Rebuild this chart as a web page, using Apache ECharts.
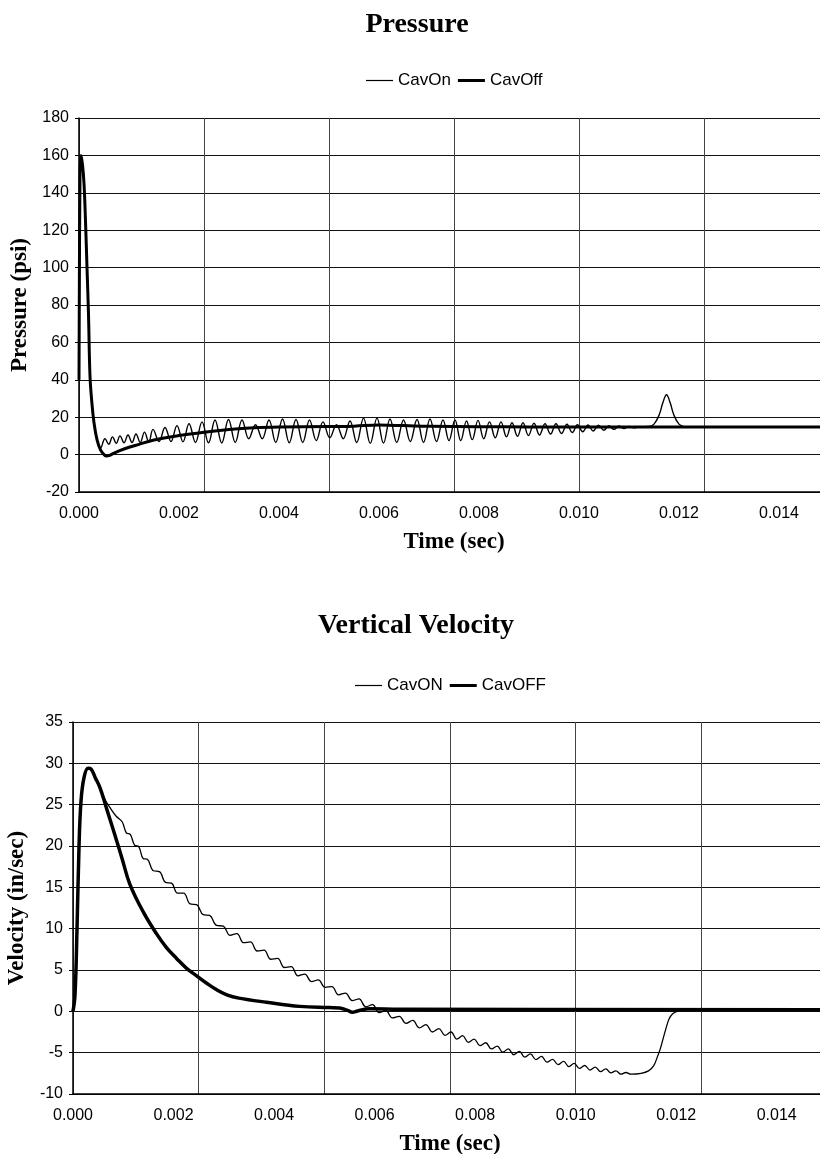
<!DOCTYPE html>
<html>
<head>
<meta charset="utf-8">
<script src="https://cdn.jsdelivr.net/npm/echarts@6/dist/echarts.min.js"></script>
<style>
html,body{margin:0;padding:0;background:#fff;}
#chart{width:820px;height:1154px;}
</style>
</head>
<body>
<div id="chart"></div>
<script>
// ---------- Pressure (psi) ----------
const pressureOnTime = [0, 0.00002, 0.00004, 0.00007, 0.0001, 0.00013, 0.00016, 0.00019, 0.00022, 0.00026, 0.0003, 0.00036, 0.00043,
  0.00052, 0.000595, 0.00067, 0.000745, 0.00082, 0.0009, 0.00098, 0.00106, 0.00114, 0.001225, 0.00131, 0.001395, 0.00148, 0.0016,
  0.00172, 0.00184, 0.00196, 0.00208, 0.0022, 0.00233, 0.00246, 0.00259, 0.00272, 0.002855, 0.00299, 0.003125, 0.00326, 0.003395,
  0.00353, 0.003665, 0.0038, 0.003935, 0.00407, 0.004205, 0.00434, 0.004475, 0.00461, 0.004745, 0.00488, 0.005015, 0.00515, 0.005285,
  0.00542, 0.005555, 0.00569, 0.005825, 0.00596, 0.00609, 0.00622, 0.006355, 0.00649, 0.006625, 0.00676, 0.00689, 0.00702, 0.00715,
  0.00728, 0.0074, 0.00752, 0.007635, 0.00775, 0.007865, 0.00798, 0.008095, 0.00821, 0.008325, 0.00844, 0.00855, 0.00866, 0.00877,
  0.00888, 0.00899, 0.0091, 0.00921, 0.00932, 0.00943, 0.00954, 0.00965, 0.00976, 0.009865, 0.00997, 0.010075, 0.01018, 0.010285,
  0.01039, 0.010495, 0.0106, 0.0107, 0.0108, 0.0109, 0.011, 0.0111, 0.0112,
  0.0114, 0.0115, 0.0116, 0.01168, 0.01175, 0.01182, 0.0119, 0.012, 0.0121, 0.0122, 0.015];
const pressureOnPsi = [40, 150, 160, 155, 145, 125, 100, 75, 42, 27, 17, 8, 3.5,
  8.5, 5.5, 9.5, 6, 10, 6.3, 10.5, 6.5, 11, 6.5, 12, 6.8, 13.5, 7,
  14.5, 7, 15.5, 6.8, 16.5, 6.5, 17.5, 6.3, 18.5, 6.2, 18.8, 6.5, 18.5, 8.5,
  16, 8.5, 18.5, 6.5, 19, 6.3, 18.8, 6.5, 18.5, 7.5, 17.5, 9, 16, 8.5,
  18, 6.5, 19.5, 6, 19.5, 6.2, 19, 6.5, 18.5, 7, 18.8, 6.5, 19, 7,
  18.5, 7.5, 18.5, 7.5, 18, 8, 18.3, 8.5, 17.5, 9, 17.5, 9.5, 17, 9.8,
  17, 10.2, 16.8, 10.5, 16.5, 11, 16.5, 11.3, 16.2, 11.8, 16, 12.2, 15.8, 12.6,
  15.7, 13, 15.5, 13.5, 15.3, 13.9, 15.1, 14.3, 14.9,
  15, 16.3, 21, 28, 32, 28, 21, 16.3, 15, 14.7, 14.7];
const pressureOffTime = [0, 0.00002, 0.00004, 0.00007, 0.0001, 0.00013, 0.00016, 0.00019, 0.00022, 0.00026, 0.0003, 0.00036, 0.00043,
  0.0005, 0.00055, 0.0006, 0.0007, 0.0009, 0.0012, 0.0015, 0.002, 0.0025, 0.003, 0.0035, 0.004, 0.005, 0.0055, 0.006, 0.0065, 0.007,
  0.008, 0.009, 0.015];
const pressureOffPsi = [40, 150, 160, 155, 145, 125, 100, 75, 42, 27, 17, 8, 2.5,
  0, -0.8, -0.6, 0.8, 3, 5.5, 7.8, 10.2, 12, 13.4, 14.3, 14.7, 15, 15.2, 15.8, 15.5, 15.1,
  14.9, 14.8, 14.7];

// ---------- Vertical velocity (in/sec) ----------
const velocityOnTime = [0, 0.00004, 0.00008, 0.00012, 0.00016, 0.00022, 0.0003, 0.00036, 0.00044, 0.00054, 0.00064, 0.00074, 0.00086,
  0.00098, 0.00106, 0.00114, 0.001225, 0.00131, 0.001395, 0.00148, 0.0016, 0.00172, 0.00184, 0.00196, 0.00208, 0.0022, 0.00233,
  0.00246, 0.00259, 0.00272, 0.002855, 0.00299, 0.003125, 0.00326, 0.003395, 0.00353, 0.003665, 0.0038, 0.003935, 0.00407, 0.004205,
  0.00434, 0.004475, 0.00461, 0.004745, 0.00488, 0.005015, 0.00515, 0.005285, 0.00542, 0.005555, 0.00569, 0.005825, 0.00596, 0.00609,
  0.00622, 0.006355, 0.00649, 0.006625, 0.00676, 0.00689, 0.00702, 0.00715, 0.00728, 0.0074, 0.00752, 0.007635, 0.00775, 0.007865,
  0.00798, 0.008095, 0.00821, 0.008325, 0.00844, 0.00855, 0.00866, 0.00877, 0.00888, 0.00899, 0.0091, 0.00921, 0.00932, 0.00943,
  0.00954, 0.00965, 0.00976, 0.009865, 0.00997, 0.010075, 0.01018, 0.010285, 0.01039, 0.010495, 0.0106, 0.0107, 0.0108, 0.0109,
  0.011, 0.0111,
  0.0113, 0.01145, 0.01155, 0.01162, 0.01168, 0.01174, 0.0118, 0.01186, 0.01193, 0.01202, 0.01213, 0.015];
const velocityOnIps = [0, 2, 10, 20, 25.5, 28.3, 29.4, 29.3, 28.3, 27, 25.6, 24.6, 23.6,
  22.9, 21.6, 21.4, 20.1, 19.9, 18.5, 18.4, 17.0, 16.9, 15.6, 15.5, 14.3, 14.3, 13.0,
  12.9, 11.7, 11.6, 10.4, 10.3, 9.2, 9.4, 8.3, 8.4, 7.3, 7.4, 6.3, 6.4, 5.3,
  5.4, 4.3, 4.5, 3.6, 3.8, 2.9, 3.0, 2.0, 2.2, 1.3, 1.5, 0.55, 0.8, -0.15,
  0.1, -0.8, -0.6, -1.45, -1.1, -2.0, -1.6, -2.5, -2.1, -2.9, -2.5, -3.35, -2.95, -3.75,
  -3.35, -4.15, -3.8, -4.55, -4.2, -4.95, -4.55, -5.25, -4.85, -5.55, -5.15, -5.85, -5.45, -6.15,
  -5.8, -6.45, -6.05, -6.7, -6.3, -6.9, -6.55, -7.1, -6.75, -7.3, -6.95, -7.45, -7.2, -7.6,
  -7.4, -7.6,
  -7.5, -7.2, -6.6, -5.6, -4.6, -3.3, -2.0, -0.9, -0.3, 0.0, 0.15, 0.2];
const velocityOffTime = [0, 0.00004, 0.00008, 0.00012, 0.00016, 0.00022, 0.0003, 0.00036, 0.00044, 0.00054,
  0.00068, 0.00083, 0.00098, 0.00113, 0.0014, 0.00166, 0.00186, 0.00206, 0.00226, 0.00246,
  0.00266, 0.00286, 0.00306, 0.0033, 0.00385, 0.00451, 0.0051, 0.0053, 0.00545, 0.00556,
  0.00566, 0.0059, 0.0065, 0.015];
const velocityOffIps = [0, 2, 10, 20, 25.5, 28.3, 29.4, 29.3, 28.3, 27,
  24.3, 21.4, 18.4, 15.4, 12.0, 9.4, 7.7, 6.4, 5.2, 4.3,
  3.4, 2.6, 2.0, 1.6, 1.1, 0.6, 0.45, 0.4, 0.15, -0.1,
  0.05, 0.3, 0.25, 0.2];

const pressureLegend = ['CavOn', 'CavOff'];
const velocityLegend = ['CavON', 'CavOFF'];

function pairs(ts, vs) { return ts.map((t, i) => [t, vs[i]]); }

const SANS = 'Liberation Sans, Arial, sans-serif';
const SERIF = 'Liberation Serif, Times New Roman, serif';
const nameStyle = { fontFamily: SERIF, fontWeight: 'bold', fontSize: 23, color: '#000' };
const THIN_ICON = 'path://M0,0 L27,0 L27,1.2 L0,1.2 Z';
const THICK_ICON = 'path://M0,0 L27,0 L27,3 L0,3 Z';

function labelXAxis(grid, gap) {
  return {
    gridIndex: grid, type: 'value', min: 0, max: 0.015, interval: 0.002, position: 'bottom',
    axisLine: { show: true, onZero: false, lineStyle: { color: '#000', width: 1.5 } },
    axisTick: { show: false },
    axisLabel: { fontSize: 16, color: '#000', fontFamily: SANS, margin: 14, showMaxLabel: false,
      formatter: v => v.toFixed(3) },
    splitLine: { show: false },
    name: 'Time (sec)', nameLocation: 'middle', nameGap: gap, nameTextStyle: nameStyle
  };
}
function gridXAxis(grid) {
  return {
    gridIndex: grid, type: 'value', min: 0, max: 0.015, interval: 0.0025, position: 'top',
    axisLine: { show: false }, axisTick: { show: false }, axisLabel: { show: false },
    splitLine: { show: true, lineStyle: { color: '#444', width: 1 } }
  };
}
function yAxis(grid, min, max, step, name, gap) {
  return {
    gridIndex: grid, type: 'value', min: min, max: max, interval: step,
    axisLine: { show: true, lineStyle: { color: '#000', width: 1.5 } },
    axisTick: { show: true, length: 4, lineStyle: { color: '#000' } },
    axisLabel: { fontSize: 16, color: '#000', fontFamily: SANS, margin: 10 },
    splitLine: { show: true, lineStyle: { color: '#111', width: 1 } },
    name: name, nameLocation: 'middle', nameGap: gap, nameRotate: 90, nameTextStyle: nameStyle
  };
}
function lineSeries(name, data, xi, yi, width) {
  return {
    name: name, type: 'line', data: data, xAxisIndex: xi, yAxisIndex: yi,
    symbol: 'none', showSymbol: false, smooth: 0.4,
    lineStyle: { color: '#000', width: width, join: 'round' }, itemStyle: { color: '#000' },
    animation: false
  };
}

const chart = echarts.init(document.getElementById('chart'), null, { renderer: 'canvas' });
chart.setOption({
  backgroundColor: '#fff',
  animation: false,
  title: [
    { text: 'Pressure', left: 417, top: 11, textAlign: 'center', padding: 0,
      textStyle: { fontFamily: SERIF, fontWeight: 'bold', fontSize: 28, color: '#000' } },
    { text: 'Vertical Velocity', left: 416, top: 612, textAlign: 'center', padding: 0,
      textStyle: { fontFamily: SERIF, fontWeight: 'bold', fontSize: 28, color: '#000' } }
  ],
  legend: [
    { data: [{ name: pressureLegend[0], icon: THIN_ICON }, { name: pressureLegend[1], icon: THICK_ICON }],
      left: 366, top: 72, padding: 0, itemGap: 7, itemWidth: 27, itemHeight: 12,
      textStyle: { fontSize: 17, fontFamily: SANS, color: '#000' } },
    { data: [{ name: velocityLegend[0], icon: THIN_ICON }, { name: velocityLegend[1], icon: THICK_ICON }],
      left: 355, top: 677, padding: 0, itemGap: 7, itemWidth: 27, itemHeight: 12,
      textStyle: { fontSize: 17, fontFamily: SANS, color: '#000' } }
  ],
  grid: [
    { left: 79, width: 750, top: 118, height: 374, outerBoundsMode: 'none', containLabel: false },
    { left: 73, width: 754, top: 722, height: 372, outerBoundsMode: 'none', containLabel: false }
  ],
  xAxis: [labelXAxis(0, 39), gridXAxis(0), labelXAxis(1, 39), gridXAxis(1)],
  yAxis: [
    yAxis(0, -20, 180, 20, 'Pressure (psi)', 45),
    yAxis(1, -10, 35, 5, 'Velocity (in/sec)', 39)
  ],
  series: [
    lineSeries('CavOn', pairs(pressureOnTime, pressureOnPsi), 0, 0, 1.4),
    lineSeries('CavOff', pairs(pressureOffTime, pressureOffPsi), 0, 0, 3),
    lineSeries('CavON', pairs(velocityOnTime, velocityOnIps), 2, 1, 1.3),
    lineSeries('CavOFF', pairs(velocityOffTime, velocityOffIps), 2, 1, 3.5)
  ]
});
</script>
</body>
</html>
